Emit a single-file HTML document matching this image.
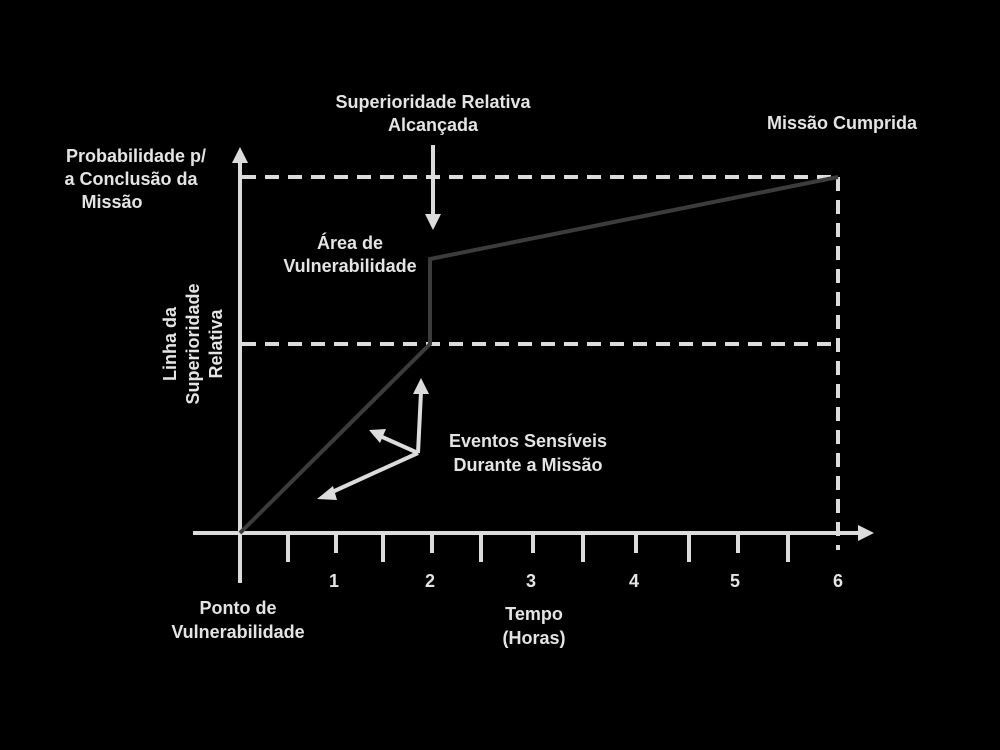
<!DOCTYPE html>
<html><head><meta charset="utf-8"><style>
html,body{margin:0;padding:0;background:#000;}
svg{display:block}
text{font-family:"Liberation Sans",sans-serif;font-weight:bold;font-size:18px;fill:#e4e4e4;}
</style></head><body>
<svg width="1000" height="750" viewBox="0 0 1000 750">
<g stroke="#dcdcdc" stroke-width="4" fill="none">
<line x1="242" y1="177" x2="838" y2="177" stroke-dasharray="14,9"/>
<line x1="242" y1="344" x2="838" y2="344" stroke-dasharray="14,9"/>
<line x1="838" y1="177" x2="838" y2="550" stroke-dasharray="14,9"/>
<line x1="240" y1="583" x2="240" y2="160"/>
<line x1="193" y1="533" x2="860" y2="533"/>
<line x1="288" y1="533" x2="288" y2="562"/>
<line x1="336" y1="533" x2="336" y2="553"/>
<line x1="383" y1="533" x2="383" y2="562"/>
<line x1="432" y1="533" x2="432" y2="553"/>
<line x1="481" y1="533" x2="481" y2="562"/>
<line x1="533" y1="533" x2="533" y2="553"/>
<line x1="583" y1="533" x2="583" y2="562"/>
<line x1="636" y1="533" x2="636" y2="553"/>
<line x1="689" y1="533" x2="689" y2="562"/>
<line x1="738" y1="533" x2="738" y2="553"/>
<line x1="788" y1="533" x2="788" y2="562"/>
<line x1="433" y1="145" x2="433" y2="216"/>
<line x1="418" y1="453" x2="421" y2="392"/>
<line x1="418" y1="453" x2="380" y2="436"/>
<line x1="418" y1="453" x2="330" y2="493"/>
</g>
<g fill="#dcdcdc">
<polygon points="240,147 232,163 248,163"/>
<polygon points="874,533 858,525 858,541"/>
<polygon points="433,230 425,214 441,214"/>
<polygon points="421,378 413,394 429,394"/>
<polygon points="369,430 386,429 380,443"/>
<polygon points="317,499 333,486 337,500"/>
</g>
<polyline points="240,533 430,344 430,259 838,177" fill="none" stroke="#3c3c3c" stroke-width="4"/>
<text x="433" y="108" text-anchor="middle">Superioridade Relativa</text>
<text x="433" y="131" text-anchor="middle">Alcançada</text>
<text x="842" y="129" text-anchor="middle">Missão Cumprida</text>
<text x="136" y="162" text-anchor="middle">Probabilidade p/</text>
<text x="131" y="185" text-anchor="middle">a Conclusão da</text>
<text x="112" y="208" text-anchor="middle">Missão</text>
<text x="350" y="249" text-anchor="middle">Área de</text>
<text x="350" y="272" text-anchor="middle">Vulnerabilidade</text>
<text x="528" y="447" text-anchor="middle">Eventos Sensíveis</text>
<text x="528" y="471" text-anchor="middle">Durante a Missão</text>
<g transform="translate(176,344) rotate(-90)">
<text x="0" y="0" text-anchor="middle">Linha da</text>
<text x="0" y="23" text-anchor="middle">Superioridade</text>
<text x="0" y="46" text-anchor="middle">Relativa</text>
</g>
<text x="334" y="587" text-anchor="middle">1</text>
<text x="430" y="587" text-anchor="middle">2</text>
<text x="531" y="587" text-anchor="middle">3</text>
<text x="634" y="587" text-anchor="middle">4</text>
<text x="735" y="587" text-anchor="middle">5</text>
<text x="838" y="587" text-anchor="middle">6</text>
<text x="238" y="614" text-anchor="middle">Ponto de</text>
<text x="238" y="638" text-anchor="middle">Vulnerabilidade</text>
<text x="534" y="620" text-anchor="middle">Tempo</text>
<text x="534" y="644" text-anchor="middle">(Horas)</text>
</svg>
</body></html>
